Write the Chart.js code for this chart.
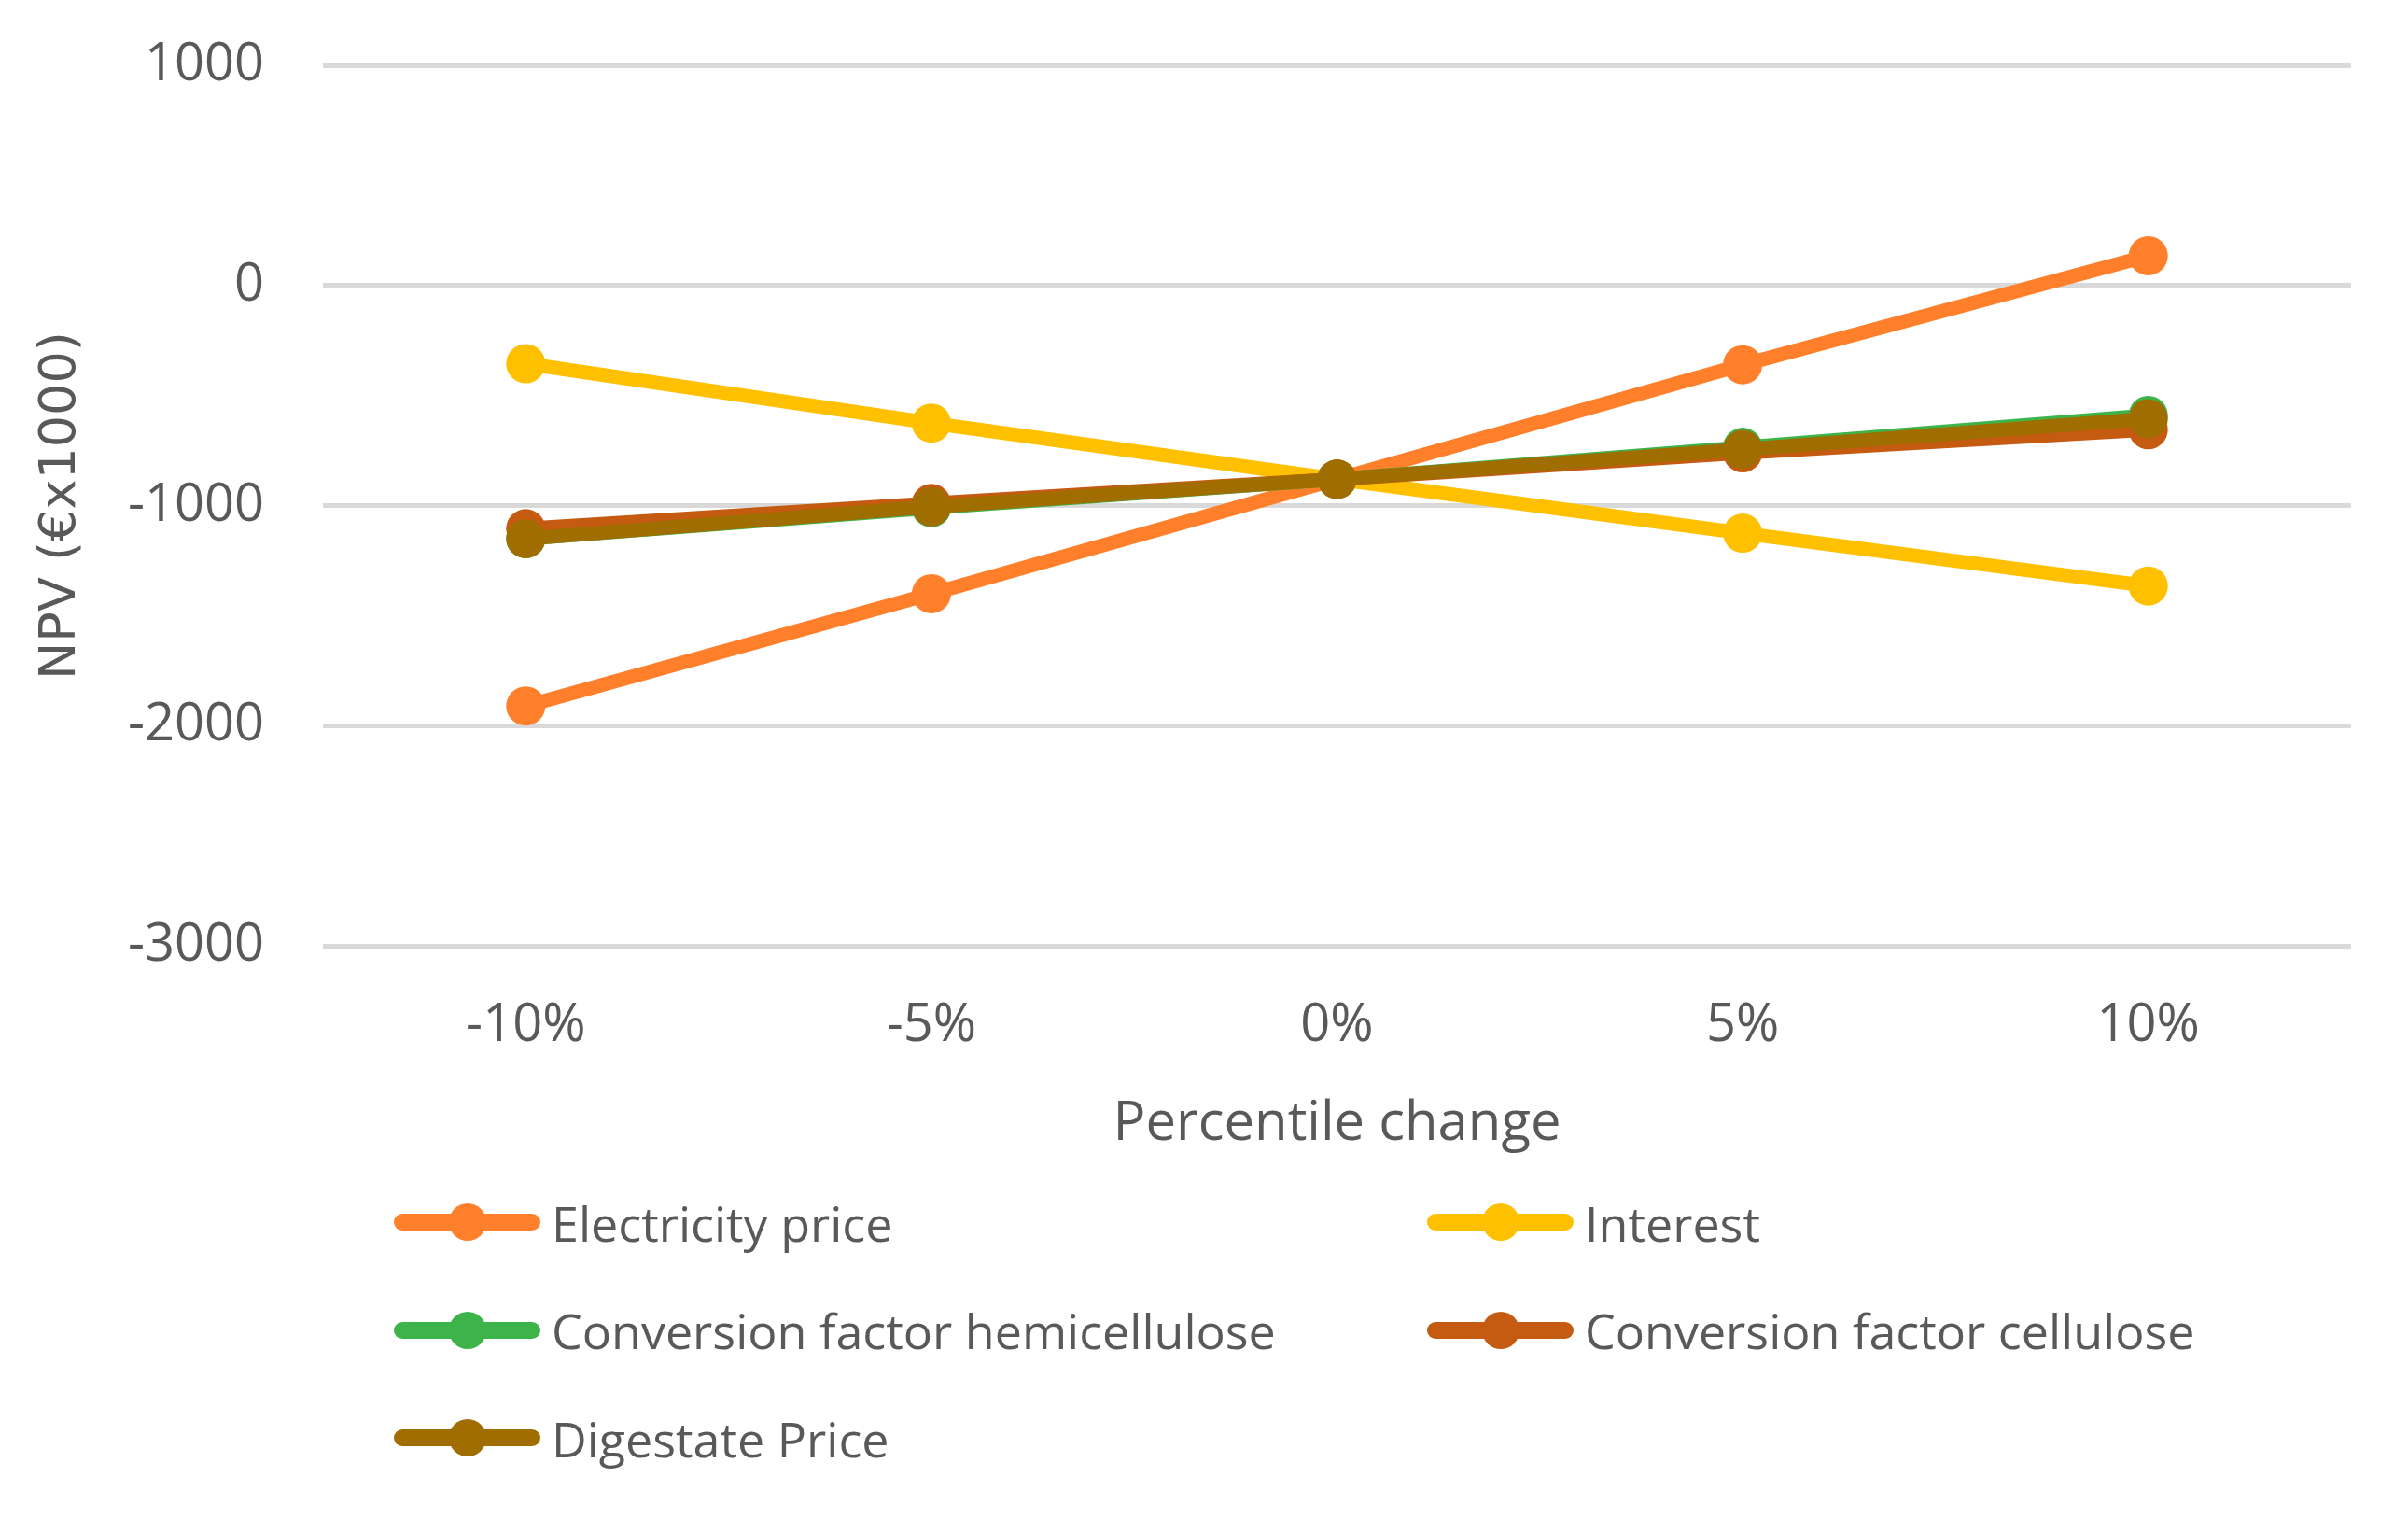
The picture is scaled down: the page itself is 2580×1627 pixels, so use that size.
<!DOCTYPE html>
<html>
<head>
<meta charset="utf-8">
<script src="https://cdn.jsdelivr.net/npm/chart.js@4.4.1/dist/chart.umd.min.js"></script>
<style>
  body { margin: 0; background: #fff; }
  #wrap { position: relative; width: 2580px; height: 1627px; }
  #legend {
    position: absolute; left: 422px; top: 1267px;
    display: grid; grid-template-columns: 1107px 900px; grid-auto-rows: 115.5px;
    font-family: "Open Sans", sans-serif; font-size: 52px; color: #595959;
  }
  .item { display: flex; align-items: center; height: 84px; }
  .sw { position: relative; width: 157px; height: 18px; border-radius: 9px; margin-right: 12px; }
  .sw span { position: absolute; left: 59px; top: -11px; width: 40px; height: 40px; border-radius: 50%; }
</style>
</head>
<body>
<div id="wrap">
  <canvas id="npvchart" width="2580" height="1627"></canvas>
  <div id="legend"></div>
</div>
<script>
const ctx = document.getElementById('npvchart');

const categories = ['-10%', '-5%', '0%', '5%', '10%'];
const electricityPrice = [-1910, -1400, -880, -360, 135];
const interest = [-355, -625, -880, -1125, -1365];
const hemicellulose = [-1150, -1010, -880, -735, -590];
const cellulose = [-1105, -990, -880, -760, -655];
const digestatePrice = [-1150, -1005, -880, -745, -605];
const yTicks = [1000, 0, -1000, -2000, -3000];

function line(label, data, color, order) {
  return {
    label: label,
    data: data,
    borderColor: color,
    backgroundColor: color,
    borderWidth: 15,
    pointRadius: 21,
    pointBorderWidth: 0,
    pointBackgroundColor: color,
    order: order
  };
}

const myChart = new Chart(ctx, {
  type: 'line',
  data: {
    labels: categories,
    datasets: [
      line('Electricity price', electricityPrice, '#FF7F2A', 5),
      line('Interest', interest, '#FFC000', 4),
      line('Conversion factor hemicellulose', hemicellulose, '#3CB44A', 3),
      line('Conversion factor cellulose', cellulose, '#C55A11', 2),
      line('Digestate Price', digestatePrice, '#A06E00', 1)
    ]
  },
  options: {
    responsive: false,
    animation: false,
    layout: { padding: { top: 70, left: 34, right: 61, bottom: 388 } },
    plugins: {
      legend: { display: false },
      tooltip: { enabled: false }
    },
    scales: {
      x: {
        offset: true,
        grid: { display: false },
        border: { display: false },
        ticks: { padding: 44, color: '#595959', font: { family: 'Open Sans', size: 56 } },
        title: {
          display: true, text: 'Percentile change', color: '#595959',
          padding: { top: -7, bottom: 0 },
          font: { family: 'Open Sans', size: 58 }
        }
      },
      y: {
        min: -3000, max: 1000,
        afterBuildTicks: function(scale) { scale.ticks = yTicks.map(v => ({ value: v })); },
        afterFit: function(scale) { scale.width = 312; },
        grid: { color: '#D9D9D9', lineWidth: 5, drawTicks: false },
        border: { display: false },
        ticks: {
          padding: 63, color: '#595959',
          // small lineHeight so the label padding does not push the plot down
          font: { family: 'Open Sans', size: 56, lineHeight: 0.2 },
          callback: function(value) { return String(value); }
        },
        title: {
          display: true, text: 'NPV (€x1000)', color: '#595959',
          padding: 0,
          font: { family: 'DejaVu Sans', size: 54 }
        }
      }
    }
  }
});

// legend in two columns, like the original
const legendBox = document.getElementById('legend');
myChart.data.datasets.forEach(function(ds) {
  const item = document.createElement('div');
  item.className = 'item';
  const sw = document.createElement('div');
  sw.className = 'sw';
  sw.style.background = ds.borderColor;
  const dot = document.createElement('span');
  dot.style.background = ds.borderColor;
  sw.appendChild(dot);
  item.appendChild(sw);
  item.appendChild(document.createTextNode(ds.label));
  legendBox.appendChild(item);
});
</script>
</body>
</html>
